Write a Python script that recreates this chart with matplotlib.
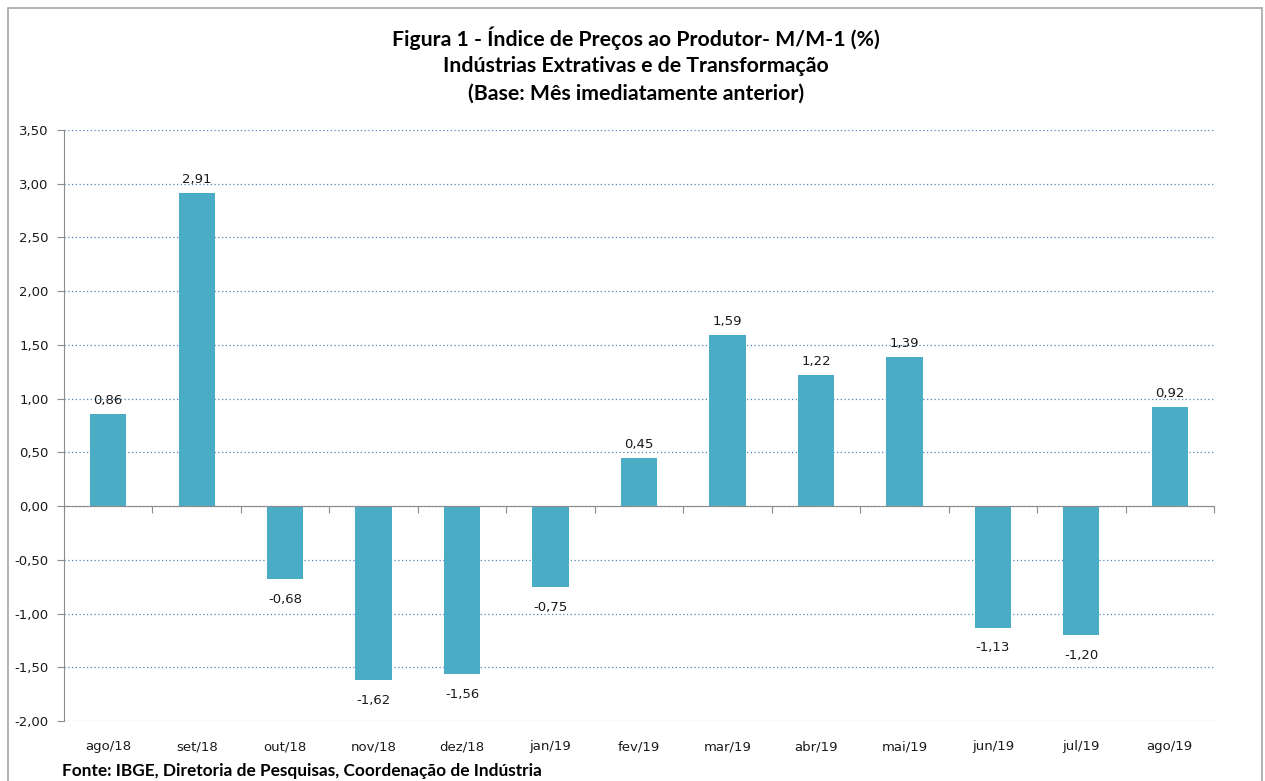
import matplotlib
matplotlib.use("Agg")
import matplotlib.pyplot as plt
from matplotlib.patches import Rectangle
import numpy as np

categories = ["ago/18", "set/18", "out/18", "nov/18", "dez/18", "jan/19", "fev/19",
              "mar/19", "abr/19", "mai/19", "jun/19", "jul/19", "ago/19"]
values = [0.86, 2.91, -0.68, -1.62, -1.56, -0.75, 0.45, 1.59, 1.22, 1.39, -1.13, -1.20, 0.92]
yticks = [3.5, 3.0, 2.5, 2.0, 1.5, 1.0, 0.5, 0.0, -0.5, -1.0, -1.5, -2.0]

title_lines = ["Figura 1 - Índice de Preços ao Produtor- M/M-1 (%)",
               "Indústrias Extrativas e de Transformação",
               "(Base: Mês imediatamente anterior)"]
source = "Fonte: IBGE, Diretoria de Pesquisas, Coordenação de Indústria"

W, H = 1265, 781
fig = plt.figure(figsize=(W / 100, H / 100), dpi=100)
fig.patch.set_facecolor("white")

# outer frame
fig.add_artist(Rectangle((8 / W, -0.05), (1262 - 8) / W, 1.05 - 8 / H,
                         transform=fig.transFigure, fill=False,
                         edgecolor="#A6A6A6", linewidth=1.2))

ax = fig.add_axes([64 / W, 1 - 721 / H, (1214 - 64) / W, (721 - 130) / H])
x = np.arange(len(categories))
ax.bar(x, values, width=0.41, color="#4BACC6", zorder=3)
ax.set_xlim(-0.5, len(categories) - 0.5)
ax.set_ylim(-2.0, 3.5)

ax.set_yticks(yticks)
ax.set_yticklabels([f"{v:.2f}".replace(".", ",") for v in yticks],
                   fontsize=9.5, family="DejaVu Sans", color="#1a1a1a")
ax.tick_params(axis="y", direction="out", length=5, color="#8C8C8C", pad=6)
ax.yaxis.grid(True, linestyle=(0, (1, 2)), color="#4F81BD", linewidth=0.9, zorder=0)

for s in ["top", "right"]:
    ax.spines[s].set_visible(False)
ax.spines["left"].set_color("#8C8C8C")
ax.spines["bottom"].set_position(("data", 0))
ax.spines["bottom"].set_color("#8C8C8C")
ax.spines["bottom"].set_zorder(4)

ax.set_xticks(np.arange(len(categories) + 1) - 0.5)
ax.set_xticklabels([])
ax.tick_params(axis="x", direction="out", length=5, color="#8C8C8C")

sec = ax.secondary_xaxis("bottom")
sec.set_xticks(x)
sec.set_xticklabels(categories, fontsize=9.5, family="DejaVu Sans", color="#1a1a1a")
sec.tick_params(length=0, pad=14)
sec.spines["bottom"].set_visible(False)

for xi, v in zip(x, values):
    lbl = f"{v:.2f}".replace(".", ",")
    if v >= 0:
        ax.annotate(lbl, (xi, v), xytext=(0, 5), textcoords="offset points",
                    ha="center", va="bottom", fontsize=9.5, family="DejaVu Sans", color="#1a1a1a")
    else:
        ax.annotate(lbl, (xi, v), xytext=(0, -10), textcoords="offset points",
                    ha="center", va="top", fontsize=9.5, family="DejaVu Sans", color="#1a1a1a")

for yc, line in zip([38, 66, 94], title_lines):
    fig.text(636 / W, 1 - yc / H, line, ha="center", va="center", fontsize=15.3,
             fontweight="bold", family="Lato", color="#000000")
fig.text(62 / W, 1 - 771 / H, source, ha="left", va="center", fontsize=12.4,
         fontweight="bold", family="Lato", color="#000000")

fig.savefig("out.png", dpi=100)
